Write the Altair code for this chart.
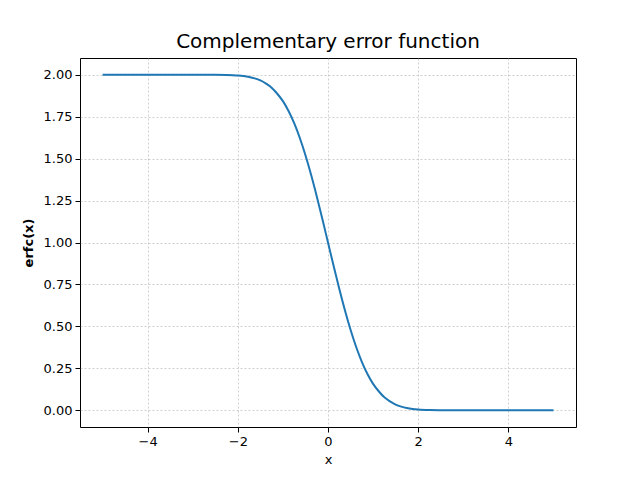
import altair as alt
import pandas as pd

xs = [-5.0, -4.0, -3.0, -2.5, -2.25, -2.0, -1.875, -1.75, -1.625, -1.5, -1.375, -1.25, -1.125,
      -1.0, -0.875, -0.75, -0.625, -0.5, -0.375, -0.25, -0.125, 0.0, 0.125, 0.25, 0.375, 0.5,
      0.625, 0.75, 0.875, 1.0, 1.125, 1.25, 1.375, 1.5, 1.625, 1.75, 1.875, 2.0, 2.25, 2.5,
      2.75, 3.0, 4.0, 5.0]
ys = [2.0, 2.0, 1.99998, 1.99959, 1.99854, 1.99532, 1.99201, 1.98667, 1.97844, 1.96611,
      1.94731, 1.92290, 1.88679, 1.84270, 1.78408, 1.71116, 1.62324, 1.52050, 1.40412,
      1.27633, 1.14032, 1.0, 0.85968, 0.72367, 0.59588, 0.47950, 0.37676, 0.28884, 0.21592,
      0.15730, 0.11321, 0.07710, 0.05269, 0.03389, 0.02156, 0.01333, 0.00799, 0.00468,
      0.00146, 0.00041, 0.00010, 0.00002, 0.0, 0.0]
x_ticks = [-4, -2, 0, 2, 4]
y_ticks = [0.0, 0.25, 0.5, 0.75, 1.0, 1.25, 1.5, 1.75, 2.0]

df = pd.DataFrame({"x": xs, "y": ys})

font = "DejaVu Sans"
chart = alt.Chart(df).mark_line(color="#1f77b4", strokeWidth=2, interpolate="monotone").encode(
    x=alt.X("x:Q", scale=alt.Scale(domain=[-5.5, 5.5], nice=False, zero=False),
            axis=alt.Axis(values=x_ticks, title="x", labelExpr="replace(datum.label, '-', '−')",
                          format="d")),
    y=alt.Y("y:Q", scale=alt.Scale(domain=[-0.1, 2.1], nice=False, zero=False),
            axis=alt.Axis(values=y_ticks, title="erfc(x)", format=".2f",
                          titleFontWeight="bold")),
).properties(
    width=496, height=369,
    title=alt.TitleParams("Complementary error function", fontSize=20, font=font,
                          fontWeight="normal", color="black", offset=6),
    autosize=alt.AutoSizeParams(type="none"),
    padding={"left": 72, "top": 50, "right": 56, "bottom": 45},
).configure_axis(
    labelFont=font, labelFontSize=13, labelColor="black", titleFont=font, titleFontSize=13,
    titleColor="black", titleFontWeight="normal", domain=False, tickColor="black", tickSize=5,
    tickWidth=1, labelPadding=3, grid=True, gridColor="#b0b0b0", gridDash=[2, 2],
    gridWidth=0.6,
).configure_axisX(titlePadding=5).configure_axisY(titlePadding=8).configure_view(
    stroke="black", strokeWidth=1)

chart.save("out.html", embed_options={"renderer": "svg", "actions": False})
